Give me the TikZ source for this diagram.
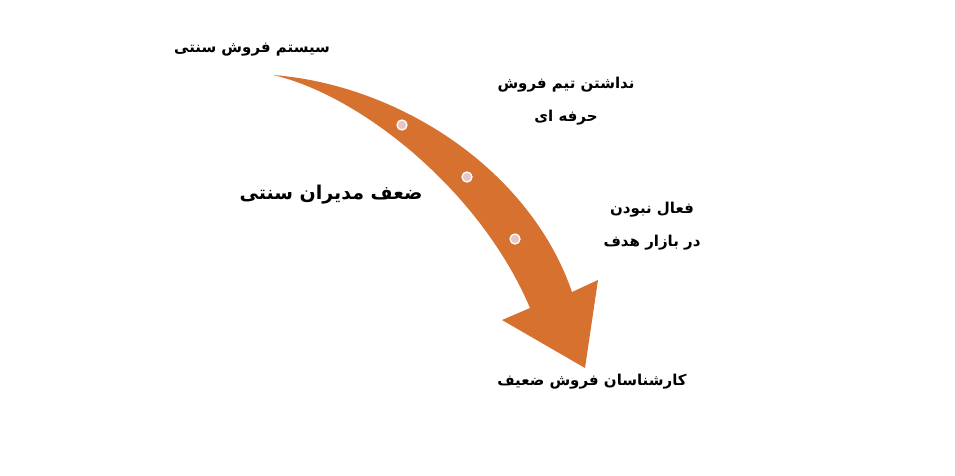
\documentclass[tikz,border=0pt]{standalone}
\usepackage{fontspec}
\newfontfamily\arabicfont[Script=Arabic]{DejaVu Sans}
\TeXXeTstate=1
\definecolor{arroworange}{HTML}{D7712F}
\definecolor{dotpink}{HTML}{E8C6C8}
\tikzset{
  lbl/.style={font=\arabicfont\bfseries\fontsize{15}{18}\selectfont, align=center, inner sep=0pt},
  biglbl/.style={font=\arabicfont\bfseries\fontsize{19}{22}\selectfont, inner sep=0pt},
  dotmark/.style={circle, fill=dotpink, draw=white, line width=1.3pt, minimum size=10pt, inner sep=0pt}
}
\begin{document}
\begin{tikzpicture}[x=1pt,y=-1pt]
\useasboundingbox[fill=white] (0,0) rectangle (955,475);
% curved arrow
\fill[arroworange] (273,75) .. controls (400,85) and (530,170) .. (572,292)
  -- (598,280) -- (585,368) -- (502,320) -- (530,308)
  .. controls (480,190) and (360,95) .. (273,75) -- cycle;
% dots
\node[dotmark] (d1) at (402,125) {};
\node[dotmark] (d2) at (467,177) {};
\node[dotmark] (d3) at (515,239) {};
% labels
\node[lbl] (t1) at (252,50) {\beginR سیستم فروش سنتی\endR};
\node[lbl] (t2) at (566,85) {\beginR نداشتن تیم فروش\endR};
\node[lbl] (t2b) at (566,118) {\beginR حرفه ای\endR};
\node[biglbl] (t3) at (331,195) {\beginR ضعف مدیران سنتی\endR};
\node[lbl] (t4) at (652,210) {\beginR فعال نبودن\endR};
\node[lbl] (t4b) at (652,243) {\beginR در بازار هدف\endR};
\node[lbl] (t5) at (592,382) {\beginR کارشناسان فروش ضعیف\endR};
\end{tikzpicture}
\end{document}
